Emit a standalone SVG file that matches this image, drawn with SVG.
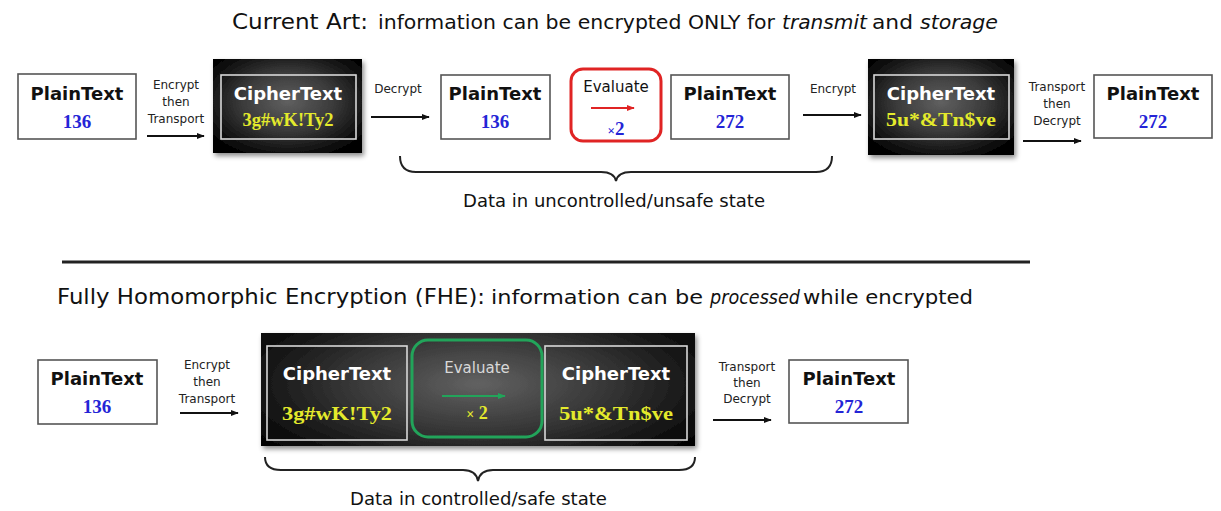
<svg xmlns="http://www.w3.org/2000/svg" width="1221" height="511" viewBox="0 0 1221 511">
  <defs>
    <radialGradient id="darkGlow" cx="50%" cy="45%" r="62%">
      <stop offset="0" stop-color="#606060"/>
      <stop offset="0.5" stop-color="#3a3a3a"/>
      <stop offset="0.85" stop-color="#141414"/>
      <stop offset="1" stop-color="#050505"/>
    </radialGradient>
    <radialGradient id="wideGlow" cx="50%" cy="45%" r="60%" gradientTransform="translate(0.5 0.45) scale(1 1.4) translate(-0.5 -0.45)">
      <stop offset="0" stop-color="#626262"/>
      <stop offset="0.5" stop-color="#363636"/>
      <stop offset="0.85" stop-color="#141414"/>
      <stop offset="1" stop-color="#060606"/>
    </radialGradient>
    <filter id="shadow" x="-10%" y="-10%" width="125%" height="130%">
      <feDropShadow dx="2" dy="3" stdDeviation="2.5" flood-color="#000" flood-opacity="0.45"/>
    </filter>
    <marker id="headBlack" viewBox="0 0 10 10" refX="9" refY="5" markerWidth="4" markerHeight="4" orient="auto" markerUnits="strokeWidth">
      <path d="M0,1 L10,5 L0,9 z" fill="#111"/>
    </marker>
    <marker id="headRed" viewBox="0 0 10 10" refX="9" refY="5" markerWidth="4" markerHeight="4" orient="auto" markerUnits="strokeWidth">
      <path d="M0,1 L10,5 L0,9 z" fill="#e02424"/>
    </marker>
    <marker id="headGreen" viewBox="0 0 10 10" refX="9" refY="5" markerWidth="4" markerHeight="4" orient="auto" markerUnits="strokeWidth">
      <path d="M0,1 L10,5 L0,9 z" fill="#22a45a"/>
    </marker>
  </defs>
  <style>
    .title { font-family: "DejaVu Sans", "Noto Sans", sans-serif; font-size: 20px; fill: #111; }
    .big { font-size: 21px; }
    .ital { font-style: italic; }
    .plainBox { fill: #fff; stroke: #555; stroke-width: 1.6; }
    .frame { fill: none; stroke: #d8d8d8; stroke-width: 1.6; }
    .head { font-family: "DejaVu Sans", "Noto Sans", sans-serif; font-weight: bold; font-size: 18px; text-anchor: middle; }
    .dark { fill: #111; }
    .light { fill: #fff; }
    .num { font-family: "Liberation Serif", "Times New Roman", serif; font-weight: bold; font-size: 19px; text-anchor: middle; fill: #2424d6; }
    .code { font-family: "Liberation Serif", "Times New Roman", serif; font-weight: bold; font-size: 18px; text-anchor: middle; fill: #e4ea2c; }
    .small { font-family: "DejaVu Sans", "Noto Sans", sans-serif; font-size: 12px; text-anchor: middle; fill: #222; }
    .evalLbl { font-family: "DejaVu Sans", "Noto Sans", sans-serif; font-size: 15px; text-anchor: middle; fill: #111; }
    .state { font-family: "DejaVu Sans", "Noto Sans", sans-serif; font-size: 17px; fill: #111; }
    .arrow { stroke: #111; stroke-width: 2; fill: none; marker-end: url(#headBlack); }
    .brace { stroke: #222; stroke-width: 2; fill: none; }
  </style>

  <rect width="1221" height="511" fill="#fff"/>

  <!-- section headings -->
  <g id="heading-current">
    <text class="title big" x="232" y="29" textLength="136" lengthAdjust="spacingAndGlyphs">Current Art:</text>
    <text class="title" x="378" y="29" textLength="397" lengthAdjust="spacingAndGlyphs">information can be encrypted ONLY for</text>
    <text class="title ital" x="782" y="29" textLength="85" lengthAdjust="spacingAndGlyphs">transmit</text>
    <text class="title" x="872" y="29" textLength="41" lengthAdjust="spacingAndGlyphs">and</text>
    <text class="title ital" x="920" y="29" textLength="78" lengthAdjust="spacingAndGlyphs">storage</text>
  </g>

  <line id="divider" x1="62" y1="262" x2="1030" y2="262" stroke="#222" stroke-width="3"/>

  <g id="heading-fhe">
    <text class="title big" x="57" y="304" textLength="428" lengthAdjust="spacingAndGlyphs">Fully Homomorphic Encryption (FHE):</text>
    <text class="title" x="491" y="304" textLength="212" lengthAdjust="spacingAndGlyphs">information can be</text>
    <text class="title ital" x="710" y="304" textLength="90" lengthAdjust="spacingAndGlyphs">processed</text>
    <text class="title" x="803" y="304" textLength="170" lengthAdjust="spacingAndGlyphs">while encrypted</text>
  </g>

  <!-- top row: current art -->
  <g id="top-plain-136">
    <rect class="plainBox" x="18" y="74" width="118" height="65"/>
    <text class="head dark" x="77" y="100">PlainText</text>
    <text class="num" x="77" y="128">136</text>
  </g>

  <g id="top-cipher-1">
    <rect x="213" y="59" width="149" height="94" fill="url(#darkGlow)" filter="url(#shadow)"/>
    <rect class="frame" x="221" y="75" width="135" height="64"/>
    <text class="head light" x="288" y="100">CipherText</text>
    <text class="code" x="288" y="126" textLength="91" lengthAdjust="spacingAndGlyphs">3g#wK!Ty2</text>
  </g>

  <g id="top-plain-136b">
    <rect class="plainBox" x="441" y="75" width="109" height="64"/>
    <text class="head dark" x="495" y="100">PlainText</text>
    <text class="num" x="495" y="128">136</text>
  </g>

  <g id="top-evaluate">
    <rect x="571" y="69" width="90" height="72" rx="12" fill="#fff" stroke="#e02424" stroke-width="3"/>
    <text class="evalLbl" x="616" y="92">Evaluate</text>
    <line x1="591" y1="108" x2="634" y2="108" stroke="#e02424" stroke-width="2" marker-end="url(#headRed)"/>
    <text class="num" x="616" y="135" font-size="17"><tspan font-size="13">×</tspan>2</text>
  </g>

  <g id="top-plain-272">
    <rect class="plainBox" x="671" y="75" width="118" height="64"/>
    <text class="head dark" x="730" y="100">PlainText</text>
    <text class="num" x="730" y="128">272</text>
  </g>

  <g id="top-cipher-2">
    <rect x="868" y="59" width="146" height="96" fill="url(#darkGlow)" filter="url(#shadow)"/>
    <rect class="frame" x="874" y="75" width="135" height="64"/>
    <text class="head light" x="941" y="100">CipherText</text>
    <text class="code" x="941" y="126" font-size="19" textLength="110" lengthAdjust="spacingAndGlyphs">5u*&amp;Tn$ve</text>
  </g>

  <g id="top-plain-272b">
    <rect class="plainBox" x="1094" y="75" width="118" height="63"/>
    <text class="head dark" x="1153" y="100">PlainText</text>
    <text class="num" x="1153" y="128">272</text>
  </g>

  <!-- bottom row: FHE -->
  <g id="fhe-plain-136">
    <rect class="plainBox" x="38" y="360" width="119" height="64"/>
    <text class="head dark" x="97" y="385">PlainText</text>
    <text class="num" x="97" y="413">136</text>
  </g>

  <g id="fhe-encrypted-block">
    <rect x="261" y="333" width="434" height="113" fill="url(#wideGlow)" filter="url(#shadow)"/>
  </g>

  <g id="fhe-cipher-1">
    <rect class="frame" x="267" y="346" width="140" height="94"/>
    <text class="head light" x="337" y="380">CipherText</text>
    <text class="code" x="337" y="420" font-size="19" textLength="110" lengthAdjust="spacingAndGlyphs">3g#wK!Ty2</text>
  </g>

  <g id="fhe-evaluate">
    <rect x="412" y="340" width="130" height="97" rx="16" fill="none" stroke="#22a45a" stroke-width="3"/>
    <text class="evalLbl" x="477" y="373" font-size="17" style="fill:#d8d8d8">Evaluate</text>
    <line x1="442" y1="396" x2="505" y2="396" stroke="#22a45a" stroke-width="2" marker-end="url(#headGreen)"/>
    <text class="code" x="477" y="419" font-size="17"><tspan font-size="14">×</tspan> 2</text>
  </g>

  <g id="fhe-cipher-2">
    <rect class="frame" x="545" y="346" width="142" height="94"/>
    <text class="head light" x="616" y="380">CipherText</text>
    <text class="code" x="616" y="420" font-size="19" textLength="114" lengthAdjust="spacingAndGlyphs">5u*&amp;Tn$ve</text>
  </g>

  <g id="fhe-plain-272">
    <rect class="plainBox" x="789" y="360" width="119" height="63"/>
    <text class="head dark" x="849" y="385">PlainText</text>
    <text class="num" x="849" y="413">272</text>
  </g>

  <!-- connectors with their step labels -->
  <g id="connectors">
    <line class="arrow" x1="147" y1="136" x2="204" y2="136"/>
    <text class="small" x="176" y="89">Encrypt</text>
    <text class="small" x="176" y="106">then</text>
    <text class="small" x="176" y="123">Transport</text>

    <line class="arrow" x1="371" y1="117" x2="429" y2="117"/>
    <text class="small" x="398" y="93">Decrypt</text>

    <line class="arrow" x1="803" y1="115" x2="861" y2="115"/>
    <text class="small" x="833" y="93">Encrypt</text>

    <line class="arrow" x1="1023" y1="141" x2="1081" y2="141"/>
    <text class="small" x="1057" y="91">Transport</text>
    <text class="small" x="1057" y="108">then</text>
    <text class="small" x="1057" y="125">Decrypt</text>

    <line class="arrow" x1="180" y1="413" x2="238" y2="413"/>
    <text class="small" x="207" y="369">Encrypt</text>
    <text class="small" x="207" y="386">then</text>
    <text class="small" x="207" y="403">Transport</text>

    <line class="arrow" x1="713" y1="420" x2="771" y2="420"/>
    <text class="small" x="747" y="371">Transport</text>
    <text class="small" x="747" y="387">then</text>
    <text class="small" x="747" y="403">Decrypt</text>
  </g>

  <!-- braces marking the data state -->
  <g id="brace-unsafe">
    <path class="brace" d="M400,156 Q400,172 416,172 L601,172 Q614,172 616,181 Q618,172 631,172 L816,172 Q832,172 832,156"/>
    <text class="state" x="463" y="207" textLength="302" lengthAdjust="spacingAndGlyphs">Data in uncontrolled/unsafe state</text>
  </g>

  <g id="brace-safe">
    <path class="brace" d="M265,457 Q265,470 281,470 L463,470 Q476,470 478,481 Q480,470 493,470 L679,470 Q695,470 695,457"/>
    <text class="state" x="350" y="505" textLength="257" lengthAdjust="spacingAndGlyphs">Data in controlled/safe state</text>
  </g>
</svg>
